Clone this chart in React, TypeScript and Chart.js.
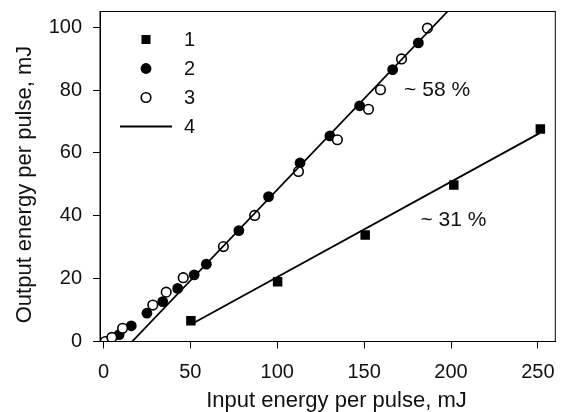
import { useEffect, useRef } from "react";
import { Chart, registerables } from "chart.js";

Chart.register(...registerables);

const FONT = '"Liberation Sans", Arial, Helvetica, sans-serif';

// Axis ticks
const xTicks = [0, 50, 100, 150, 200, 250];
const yTicks = [0, 20, 40, 60, 80, 100];

// Series 1 (filled squares)
const s1X = [50.3, 100.2, 150.6, 201.6, 251.4];
const s1Y = [6.6, 19.0, 33.9, 49.8, 67.6];

// Series 2 (filled circles)
const s2X = [9.0, 16.0, 25.0, 34.1, 42.7, 52.2, 59.2, 77.9, 95.0, 113.1, 130.3, 147.4, 166.4, 181.2];
const s2Y = [2.2, 5.0, 9.0, 12.7, 16.9, 21.2, 24.6, 35.3, 46.1, 56.8, 65.4, 75.0, 86.5, 95.0];

// Series 3 (open circles)
const s3X = [1.0, 4.8, 11.0, 28.4, 36.1, 45.9, 69.0, 87.0, 112.2, 134.6, 152.5, 159.4, 171.5, 186.4];
const s3Y = [0.0, 1.3, 4.2, 11.6, 15.7, 20.3, 30.2, 40.1, 54.1, 64.2, 73.9, 80.1, 89.9, 99.7];

// Fit lines (4)
const fit1X = [50.5, 251];
const fit1Y = [5.5, 66.3];
const fit2X = [16.5, 198];
const fit2Y = [0, 105];

const legendLabels = ["1", "2", "3", "4"];
const annotationTexts = ["~ 58 %", "~ 31 %"];
const annotationX = [173, 182.4];
const annotationY = [78, 36.6];

const xTitle = "Input energy per pulse, mJ";
const yTitle = "Output energy per pulse, mJ";

const pts = (xs: number[], ys: number[]) => xs.map((x, i) => ({ x, y: ys[i] }));

export default function App() {
  const ref = useRef<HTMLCanvasElement | null>(null);

  useEffect(() => {
    if (!ref.current) return;

    const overlay = {
      id: "overlay",
      afterDraw(chart: any) {
        const ctx = chart.ctx;
        const a = chart.chartArea;
        const xs = chart.scales.x;
        const ys = chart.scales.y;
        ctx.save();
        // frame
        ctx.strokeStyle = "#000";
        ctx.lineWidth = 1;
        ctx.strokeRect(a.left, a.top, a.right - a.left, a.bottom - a.top);

        // axis titles
        ctx.fillStyle = "#111";
        ctx.font = `22px ${FONT}`;
        ctx.textAlign = "center";
        ctx.textBaseline = "alphabetic";
        ctx.fillText(xTitle, 336.5, 406.5);
        ctx.save();
        ctx.translate(31, 184.5);
        ctx.rotate(-Math.PI / 2);
        ctx.fillText(yTitle, 0, 0);
        ctx.restore();

        // annotations
        ctx.font = `21px ${FONT}`;
        ctx.textAlign = "left";
        annotationTexts.forEach((t, i) => {
          ctx.fillText(t, xs.getPixelForValue(annotationX[i]), ys.getPixelForValue(annotationY[i]));
        });

        // legend
        const mx = a.left + 46;
        const lx = a.left + 84;
        const rowY = (i: number) => a.top + 28 + i * 29;
        ctx.fillStyle = "#000";
        ctx.strokeStyle = "#000";
        // square
        ctx.fillRect(mx - 4.5, rowY(0) - 4.5, 9, 9);
        // filled circle
        ctx.beginPath();
        ctx.arc(mx, rowY(1), 5.4, 0, Math.PI * 2);
        ctx.fill();
        // open circle
        ctx.beginPath();
        ctx.lineWidth = 1.6;
        ctx.arc(mx, rowY(2), 4.8, 0, Math.PI * 2);
        ctx.fillStyle = "#fff";
        ctx.fill();
        ctx.stroke();
        // line
        ctx.beginPath();
        ctx.lineWidth = 1.8;
        ctx.moveTo(a.left + 20, rowY(3));
        ctx.lineTo(a.left + 72, rowY(3));
        ctx.stroke();
        ctx.fillStyle = "#111";
        ctx.font = `20px ${FONT}`;
        ctx.textBaseline = "middle";
        legendLabels.forEach((l, i) => ctx.fillText(l, lx, rowY(i) + 1));
        ctx.restore();
      },
    };

    const tickFont = { family: FONT, size: 20 };

    const chart = new Chart(ref.current, {
      type: "scatter",
      data: {
        datasets: [
          {
            label: "4a",
            type: "line",
            data: pts(fit2X, fit2Y),
            borderColor: "#000",
            borderWidth: 1.8,
            pointRadius: 0,
            fill: false,
          },
          {
            label: "4b",
            type: "line",
            data: pts(fit1X, fit1Y),
            borderColor: "#000",
            borderWidth: 1.8,
            pointRadius: 0,
            fill: false,
          },
          {
            label: "1",
            data: pts(s1X, s1Y),
            pointStyle: "rect",
            pointRadius: 6.7,
            backgroundColor: "#000",
            borderColor: "#000",
            borderWidth: 0,
          },
          {
            label: "3",
            data: pts(s3X, s3Y),
            pointStyle: "circle",
            pointRadius: 4.8,
            backgroundColor: "#fff",
            borderColor: "#000",
            borderWidth: 1.6,
          },
          {
            label: "2",
            data: pts(s2X, s2Y),
            pointStyle: "circle",
            pointRadius: 5.4,
            backgroundColor: "#000",
            borderColor: "#000",
            borderWidth: 0,
          },
        ],
      } as any,
      options: {
        animation: false,
        responsive: false,
        maintainAspectRatio: false,
        layout: { padding: { left: 0, top: 11.5, right: 3, bottom: 0 } },
        plugins: { legend: { display: false }, tooltip: { enabled: false } },
        scales: {
          x: {
            type: "linear",
            min: -2,
            max: 260,
            afterBuildTicks: (s: any) => {
              s.ticks = xTicks.map((v) => ({ value: v }));
            },
            afterFit: (s: any) => {
              s.height = 70.5;
              s.paddingLeft = 0;
              s.paddingRight = 0;
              s.paddingTop = 0;
              s.paddingBottom = 0;
            },
            grid: { display: true, drawOnChartArea: false, drawTicks: true, tickLength: 7, color: "#000", lineWidth: 1 },
            border: { display: true, color: "#000", width: 1 },
            ticks: { color: "#111", font: tickFont, padding: 12, maxRotation: 0, autoSkip: false },
          },
          y: {
            type: "linear",
            min: 0,
            max: 105,
            afterBuildTicks: (s: any) => {
              s.ticks = yTicks.map((v) => ({ value: v }));
            },
            afterFit: (s: any) => {
              s.width = 100;
              s.paddingLeft = 0;
              s.paddingRight = 0;
              s.paddingTop = 0;
              s.paddingBottom = 0;
            },
            grid: { display: true, drawOnChartArea: false, drawTicks: true, tickLength: 7, color: "#000", lineWidth: 1 },
            border: { display: true, color: "#000", width: 1 },
            ticks: { color: "#111", font: tickFont, padding: 11, autoSkip: false },
          },
        },
      } as any,
      plugins: [overlay],
    });

    return () => chart.destroy();
  }, []);

  return (
    <div style={{ position: "absolute", left: 0, top: 0, width: 562, height: 412, background: "#fff" }}>
      <canvas ref={ref} width={562} height={412} />
    </div>
  );
}
